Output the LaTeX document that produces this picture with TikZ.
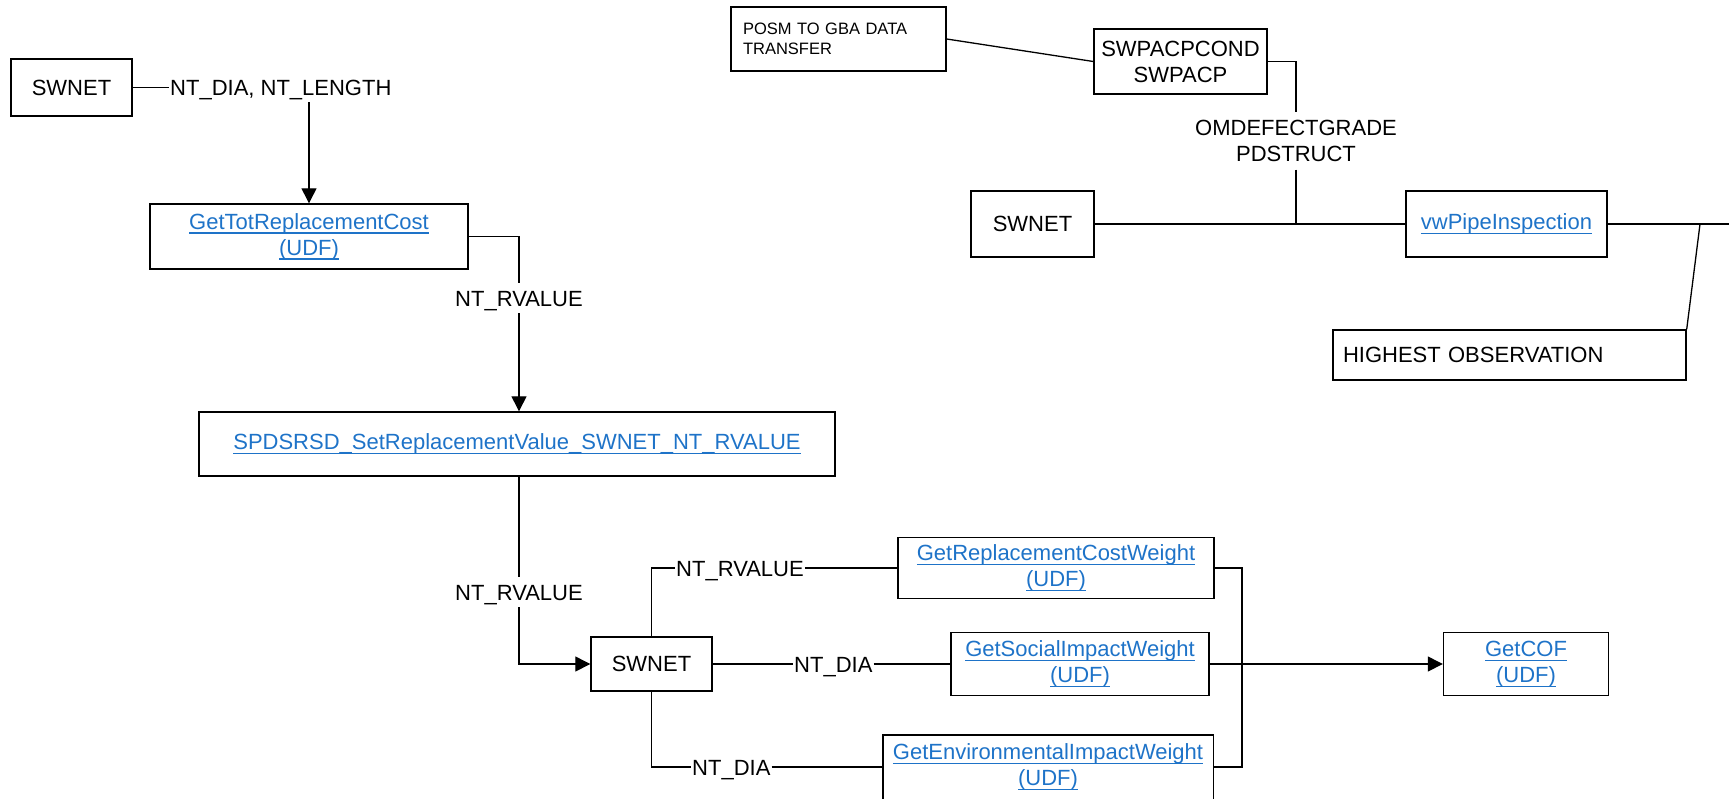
\documentclass[tikz,border=0pt]{standalone}
\usepackage{fontspec}
\setmainfont{Liberation Sans}
\usetikzlibrary{arrows.meta}
\definecolor{lnk}{RGB}{30,115,200}
\newsavebox{\lkbox}
\newcommand{\lk}[1]{\textcolor{lnk}{\sbox\lkbox{#1}\rlap{\rule[-4.7pt]{\wd\lkbox}{1.5pt}}\usebox\lkbox}}
\newcommand{\fA}{\fontsize{22}{26}\selectfont}
\newcommand{\fB}{\fontsize{16.5}{20}\selectfont}
\begin{document}
\begin{tikzpicture}[x=1pt,y=-1pt,
  box/.style={draw, line width=1.4pt, inner sep=0pt, align=center, font=\fA},
  boxline/.style={line width=1.4pt},
  lbl/.style={inner xsep=1pt, inner ysep=0pt, font=\fA, text height=16pt, text depth=0pt},
  vlbl/.style={lbl, minimum height=30pt},
  ln/.style={line width=1.3pt},
  arr/.style={ln, -{Triangle[length=15pt,width=15pt]}}]
\useasboundingbox (0,0) rectangle (1729,798);

% left column
\node[box, minimum width=121pt, minimum height=57pt] (sw1) at (71.5,87.5) {SWNET};
\node[lbl, anchor=west] (l1) at (169,87.5) {NT\_DIA, NT\_LENGTH};
\node[box, minimum width=318pt, minimum height=65pt] (gt) at (309,236.5) {\lk{GetTotReplacementCost}\\\lk{(UDF)}};
\coordinate (a1) at (309,102);
\node[vlbl] (l2) at (519,298) {NT\_RVALUE};
\node[box, minimum width=636pt, minimum height=64pt] (sp) at (517,444) {\lk{SPDSRSD\_SetReplacementValue\_SWNET\_NT\_RVALUE}};
\node[vlbl] (l3) at (519,592) {NT\_RVALUE};
\node[box, minimum width=121pt, minimum height=54pt] (sw2) at (651.5,664) {SWNET};
\node[lbl, anchor=west] (l4) at (675,568) {NT\_RVALUE};
\node[lbl, anchor=west] (l5) at (793,664) {NT\_DIA};
\node[lbl, anchor=west] (l6) at (691,767) {NT\_DIA};
\node[box, minimum width=316pt, minimum height=61pt] (grcw) at (1056,568) {\lk{GetReplacementCostWeight}\\\lk{(UDF)}};
\node[box, minimum width=258pt, minimum height=63pt] (gsiw) at (1080,664) {\lk{GetSocialImpactWeight}\\\lk{(UDF)}};
\node[inner sep=0pt, align=center, font=\fA, minimum width=330pt, minimum height=64pt] (geiw) at (1048,767) {\lk{GetEnvironmentalImpactWeight}\\\lk{(UDF)}};
\draw[boxline] (geiw.north west) rectangle ([yshift=-30pt]geiw.south east);
\node[box, minimum width=165pt, minimum height=63pt] (cof) at (1526,664) {\lk{GetCOF}\\\lk{(UDF)}};
\coordinate (bus) at (1242,664);

\draw[ln] (sw1.east) -- (l1.west);
\draw[arr] (a1) -- (gt.north);
\draw[ln] (gt.east) -| (l2.north);
\draw[arr] (l2.south) -- (l2.south |- sp.north);
\draw[ln] (l3.north |- sp.south) -- (l3.north);
\draw[arr] (l3.south) |- (sw2.west);
\draw[ln] (sw2.north) |- (l4.west);
\draw[ln] (l4.east) -- (grcw.west);
\draw[ln] (sw2.east) -- (l5.west);
\draw[ln] (l5.east) -- (gsiw.west);
\draw[ln] (sw2.south) |- (l6.west);
\draw[ln] (l6.east) -- (geiw.west);
\draw[ln] (grcw.east) -- (grcw.east -| bus) -- (geiw.east -| bus) -- (geiw.east);
\draw[arr] (gsiw.east) -- (cof.west);

% top right
\node[box, minimum width=215pt, minimum height=64pt, font=\fB, align=left, text width=191pt, inner xsep=12pt] (posm) at (838.5,39) {POSM TO GBA DATA\\TRANSFER};
\node[box, minimum width=173pt, minimum height=65pt] (swp) at (1180.5,61.5) {SWPACPCOND\\SWPACP};
\node[font=\fA, align=center, inner sep=0pt, minimum height=57pt] (l7) at (1296,141) {OMDEFECTGRADE\\PDSTRUCT};
\node[box, minimum width=123pt, minimum height=66pt] (sw3) at (1032.5,224) {SWNET};
\node[box, minimum width=201pt, minimum height=66pt] (vwp) at (1506.5,224) {\lk{vwPipeInspection}};
\node[box, minimum width=353pt, minimum height=50pt, align=left, text width=333pt, inner xsep=10pt] (hi) at (1509.5,355) {HIGHEST OBSERVATION};
\coordinate (edge) at (1729,224);
\coordinate (j2) at (1700,224);

\draw[ln] (posm.east) -- (swp.west);
\draw[ln] (swp.east) -| (l7.north);
\draw[ln] (l7.south) -- (l7.south |- sw3.east);
\draw[ln] (sw3.east) -- (vwp.west);
\draw[ln] (vwp.east) -- (edge);
\draw[ln] (j2) -- (hi.north east);
\end{tikzpicture}
\end{document}
